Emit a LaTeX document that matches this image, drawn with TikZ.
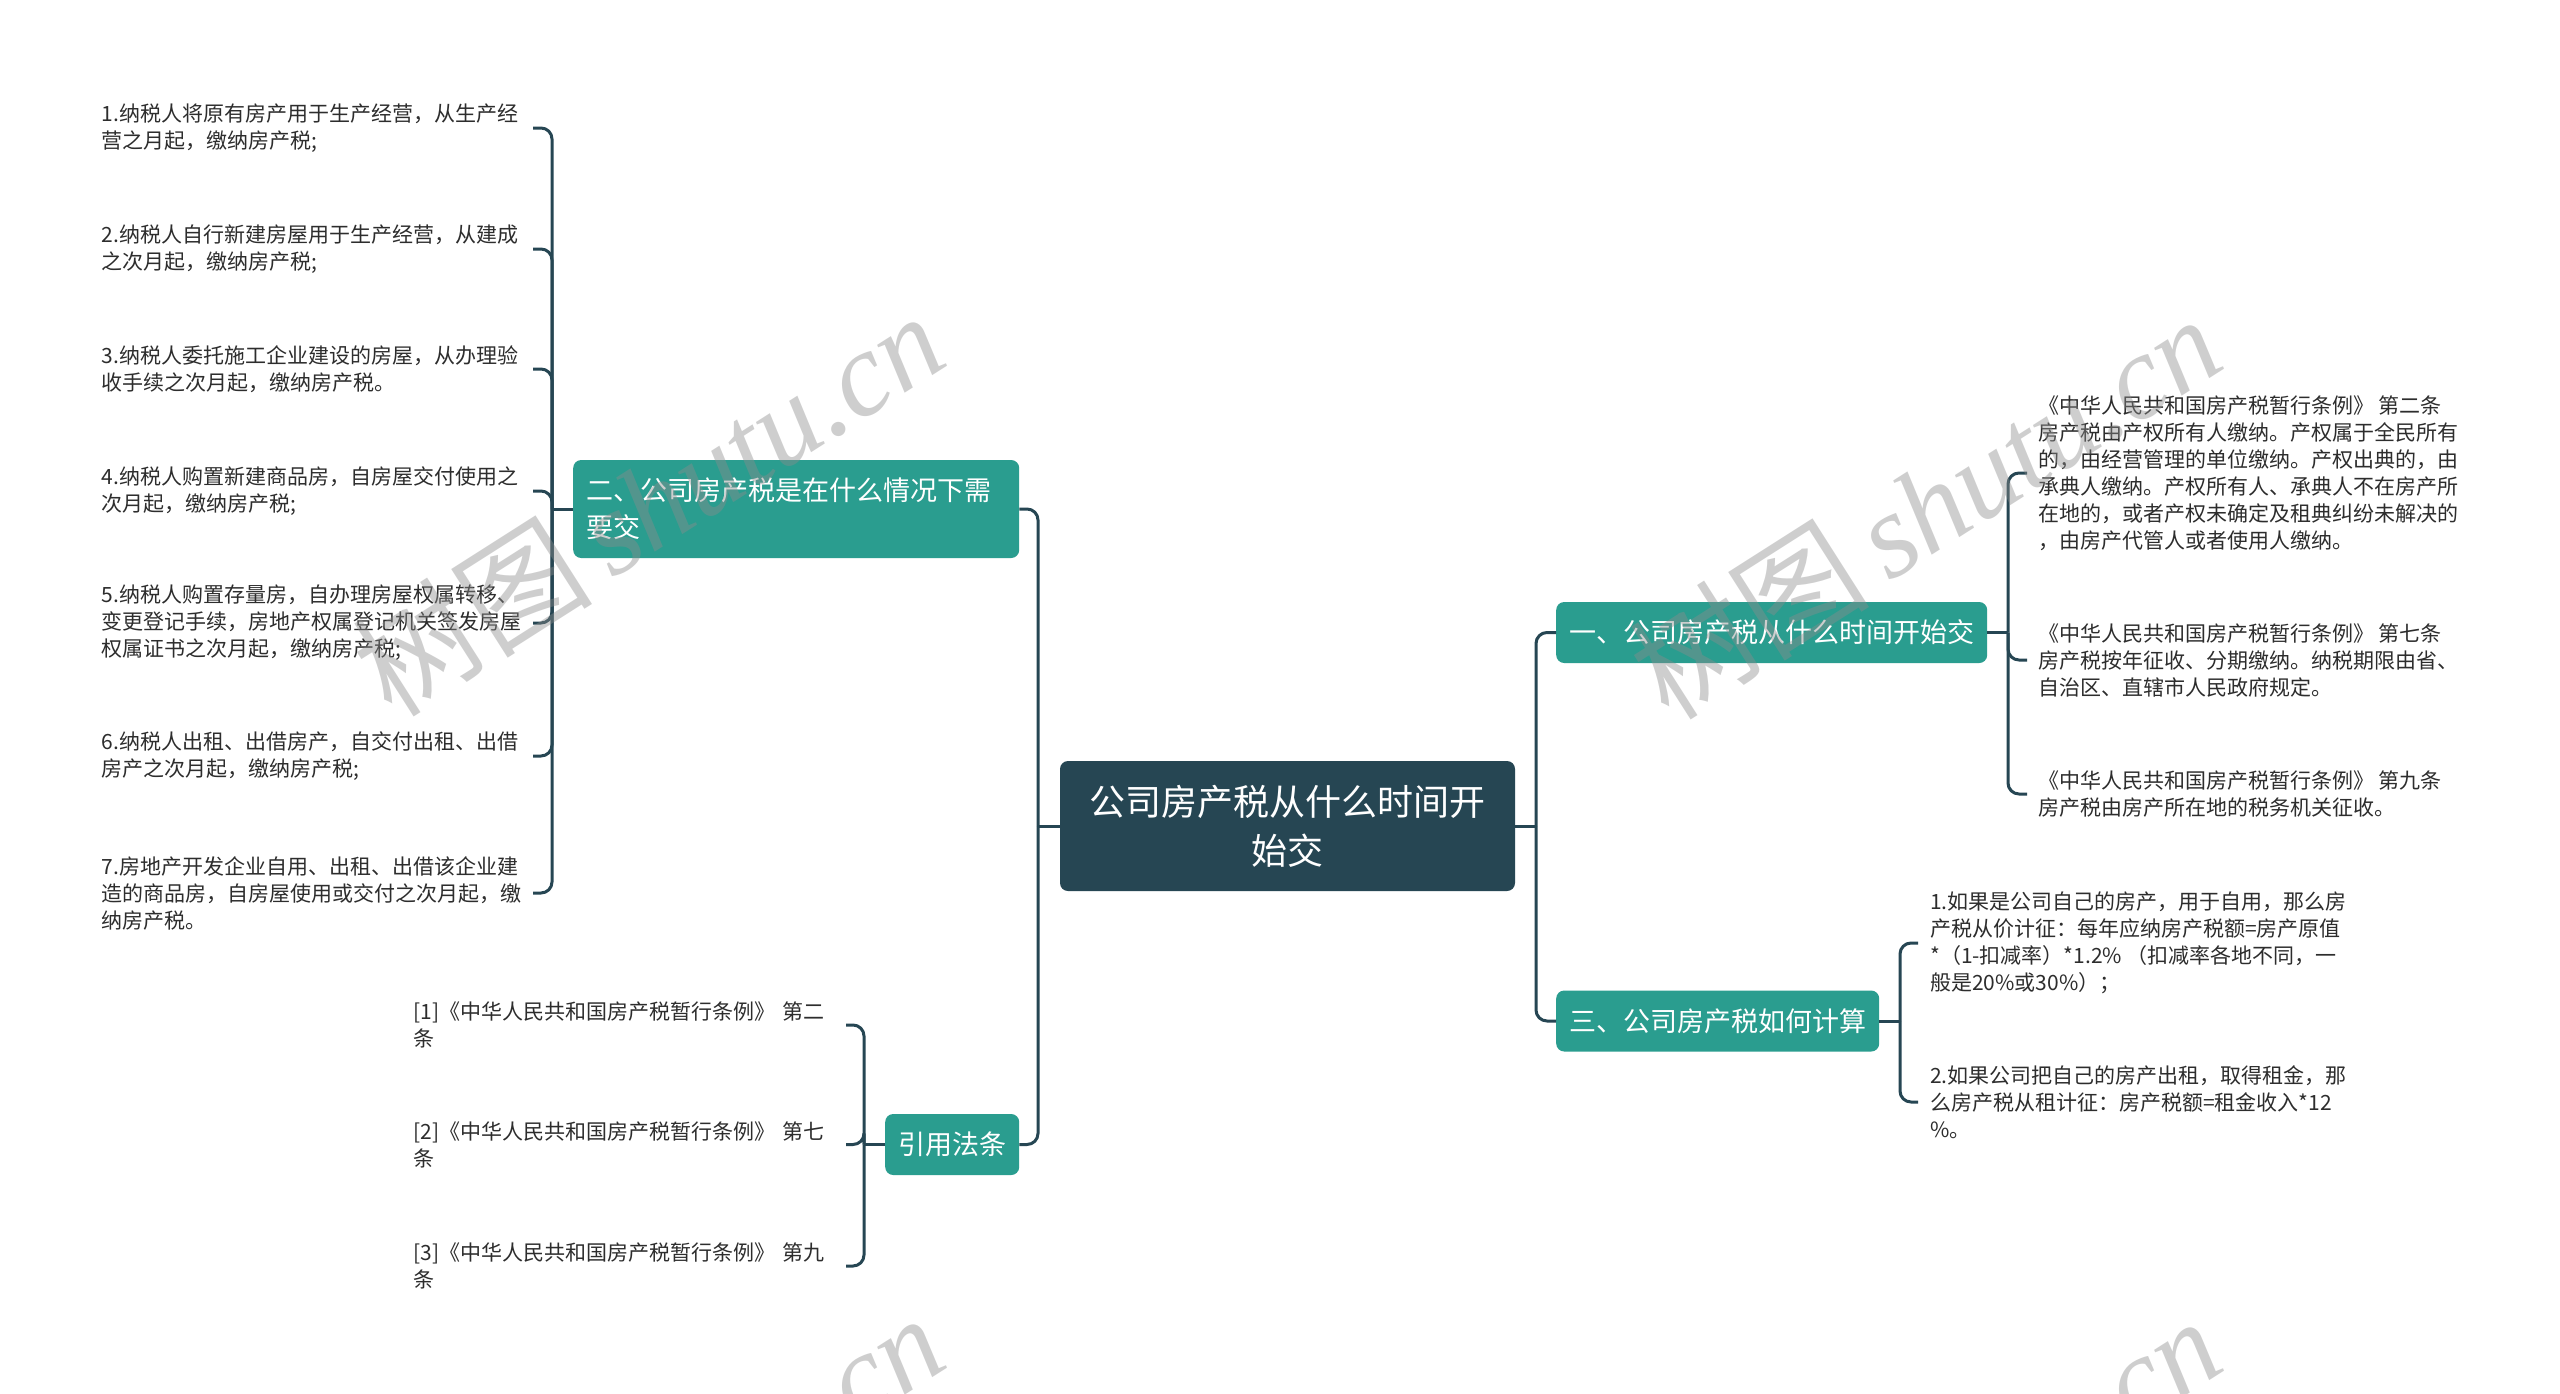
\documentclass[tikz,border=0pt]{standalone}
\usepackage{fontspec}
\setmainfont{Noto Sans CJK SC}
\newfontfamily\wmlatin{Liberation Serif}
\definecolor{rootc}{RGB}{38,70,83}
\definecolor{tealc}{RGB}{42,157,143}
\definecolor{linec}{RGB}{38,70,83}
\definecolor{txtc}{RGB}{45,45,45}
\definecolor{wmc}{RGB}{140,140,140}
\tikzset{
  rootbox/.style={fill=rootc, rounded corners=8pt, text=white, font=\fontsize{36}{49}\selectfont, align=center, minimum width=455pt, minimum height=130pt, inner sep=0pt},
  brbox/.style={fill=tealc, rounded corners=8pt, text=white, font=\fontsize{27}{37}\selectfont, inner xsep=13pt, inner ysep=0pt, minimum height=61pt, anchor=west},
  leafl/.style={text=txtc, font=\fontsize{21}{27}\selectfont, align=left, inner sep=0pt, anchor=east},
  leafr/.style={text=txtc, font=\fontsize{21}{27}\selectfont, align=left, inner xsep=11pt, inner ysep=0pt, anchor=west},
  conn/.style={draw=linec, line width=3pt, rounded corners=11pt},
  wm/.style={rotate=32.5, text=wmc, opacity=0.42, inner sep=0pt}
}
\newcommand{\wmtext}{{\fontsize{120}{120}\selectfont 树图\,{\wmlatin\itshape shutu.cn}}}
\begin{document}
\begin{tikzpicture}[x=1pt,y=-1pt]
\fill[white] (0,0) rectangle (2560,1393);
\useasboundingbox (0,0) rectangle (2560,1393);

% root and main branches
\node[rootbox] (root) at (1287.5,826) {公司房产税从什么时间开\\始交};
\node[brbox] (b1) at (1556,632.5) {一、公司房产税从什么时间开始交};
\node[brbox] (b3) at (1556,1021) {三、公司房产税如何计算};
\node[brbox, text width=420pt, align=left, minimum height=98pt] (b2) at (573,509) {二、公司房产税是在什么情况下需\\要交};
\node[brbox] (b4) at (885,1144.5) {引用法条};

\coordinate (lj) at (1038,826);
\coordinate (rj) at (1536,826);
\draw[conn] (root.west) -- (lj);
\draw[conn] (b2.east) -| (lj);
\draw[conn] (b4.east) -| (lj);
\draw[conn] (root.east) -- (rj);
\draw[conn] (b1.west) -| (rj);
\draw[conn] (b3.west) -| (rj);

% branch 2 leaves
\node[leafl, text width=431pt] (l1) at (533,128) {1.纳税人将原有房产用于生产经营，从生产经\\营之月起，缴纳房产税;};
\node[leafl, text width=431pt] (l2) at (533,249) {2.纳税人自行新建房屋用于生产经营，从建成\\之次月起，缴纳房产税;};
\node[leafl, text width=431pt] (l3) at (533,369) {3.纳税人委托施工企业建设的房屋，从办理验\\收手续之次月起，缴纳房产税。};
\node[leafl, text width=431pt] (l4) at (533,491) {4.纳税人购置新建商品房，自房屋交付使用之\\次月起，缴纳房产税;};
\node[leafl, text width=431pt] (l5) at (533,623) {5.纳税人购置存量房，自办理房屋权属转移、\\变更登记手续，房地产权属登记机关签发房屋\\权属证书之次月起，缴纳房产税;};
\node[leafl, text width=431pt] (l6) at (533,756) {6.纳税人出租、出借房产，自交付出租、出借\\房产之次月起，缴纳房产税;};
\node[leafl, text width=431pt] (l7) at (533,893) {7.房地产开发企业自用、出租、出借该企业建\\造的商品房，自房屋使用或交付之次月起，缴\\纳房产税。};
\coordinate (b2j) at (552,509);
\draw[conn] (b2.west) -- (b2j);
\foreach \n in {l1,l2,l3,l4,l5,l6,l7} { \draw[conn] (b2j) |- (\n.east); }

% cite leaves
\node[leafl, text width=432pt] (c1) at (846,1025) {[1]《中华人民共和国房产税暂行条例》 第二\\条};
\node[leafl, text width=432pt] (c2) at (846,1144.5) {[2]《中华人民共和国房产税暂行条例》 第七\\条};
\node[leafl, text width=432pt] (c3) at (846,1266) {[3]《中华人民共和国房产税暂行条例》 第九\\条};
\coordinate (b4j) at (864,1144.5);
\draw[conn] (b4.west) -- (b4j);
\foreach \n in {c1,c2,c3} { \draw[conn] (b4j) |- (\n.east); }

% branch 1 leaves
\node[leafr] (r1) at (2027,473) {《中华人民共和国房产税暂行条例》 第二条\\房产税由产权所有人缴纳。产权属于全民所有\\的，由经营管理的单位缴纳。产权出典的，由\\承典人缴纳。产权所有人、承典人不在房产所\\在地的，或者产权未确定及租典纠纷未解决的\\，由房产代管人或者使用人缴纳。};
\node[leafr] (r2) at (2027,660) {《中华人民共和国房产税暂行条例》 第七条\\房产税按年征收、分期缴纳。纳税期限由省、\\自治区、直辖市人民政府规定。};
\node[leafr] (r3) at (2027,794) {《中华人民共和国房产税暂行条例》 第九条\\房产税由房产所在地的税务机关征收。};
\coordinate (b1j) at (2008,632.5);
\draw[conn] (b1.east) -- (b1j);
\foreach \n in {r1,r2,r3} { \draw[conn] (b1j) |- (\n.west); }

% branch 3 leaves
\node[leafr, inner xsep=12pt] (s1) at (1918,943) {1.如果是公司自己的房产，用于自用，那么房\\产税从价计征：每年应纳房产税额=房产原值\\{}*（1-扣减率）*1.2\% （扣减率各地不同，一\\般是20\%或30\%）；};
\node[leafr, inner xsep=12pt] (s2) at (1918,1102) {2.如果公司把自己的房产出租，取得租金，那\\么房产税从租计征：房产税额=租金收入*12\\{}\%。};
\coordinate (b3j) at (1900,1021);
\draw[conn] (b3.east) -- (b3j);
\foreach \n in {s1,s2} { \draw[conn] (b3j) |- (\n.west); }

% watermarks
\begin{scope}
\clip (0,0) rectangle (2560,1393);
\node[wm] (wm1) at (648,503) {\wmtext};
\node[wm] (wm2) at (1925,506) {\wmtext};
\node[wm] (wm3) at (648,1505) {\wmtext};
\node[wm] (wm4) at (1925,1508) {\wmtext};
\end{scope}
\end{tikzpicture}
\end{document}
